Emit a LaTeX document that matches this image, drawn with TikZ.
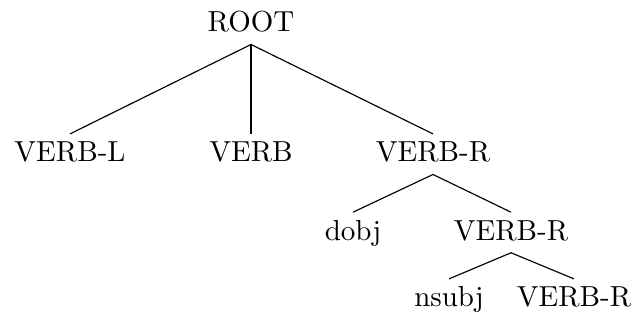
\documentclass[tikz,border=0pt]{standalone}
\begin{document}
\begin{tikzpicture}[x=0.345pt,y=-0.345pt,
  lbl/.style={anchor=base,inner xsep=0pt,inner ysep=2.4pt,text height=7pt,text depth=1.8pt},
  edge/.style={draw=black,line width=0.4pt}]
\useasboundingbox (0,0) rectangle (634,322);
\node[lbl] (root) at (251,31.7) {ROOT};
\node[lbl] (vl) at (70,161.7) {VERB-L};
\node[lbl] (v) at (251,161.7) {VERB};
\node[lbl] (vr) at (433,161.7) {VERB-R};
\node[lbl] (dobj) at (353,240) {dobj};
\node[lbl] (vr2) at (511,240) {VERB-R};
\node[lbl] (nsubj) at (449,306.7) {nsubj};
\node[lbl] (vr3) at (574,306.7) {VERB-R};
\draw[edge] (root.south) -- (vl.north);
\draw[edge] (root.south) -- (v.north);
\draw[edge] (root.south) -- (vr.north);
\draw[edge] (vr.south) -- (dobj.north);
\draw[edge] (vr.south) -- (vr2.north);
\draw[edge] (vr2.south) -- (nsubj.north);
\draw[edge] (vr2.south) -- (vr3.north);
\end{tikzpicture}
\end{document}
